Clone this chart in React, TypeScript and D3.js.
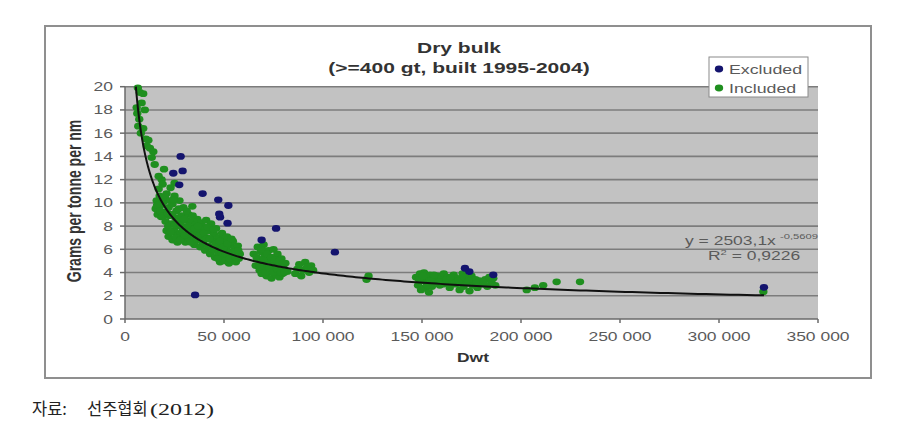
import React from 'react';
import * as d3 from 'd3';

// ---------- data ----------
const TITLE_LINES = ['Dry bulk', '(>=400 gt, built 1995-2004)'];
const X_LABEL = 'Dwt';
const Y_LABEL = 'Grams per tonne per nm';
const X_TICKS = [0, 50, 100, 150, 200, 250, 300, 350]; // thousand dwt
const X_TICK_LABELS = ['0', '50 000', '100 000', '150 000', '200 000', '250 000', '300 000', '350 000'];
const Y_TICKS = [0, 2, 4, 6, 8, 10, 12, 14, 16, 18, 20];
const SERIES_NAMES = ['Excluded', 'Included'];
const FIT_A = 2503.1;
const FIT_B = -0.5609;
const FIT_TEXT = 'y = 2503,1x';
const FIT_EXP = '-0,5609';
const R2_TEXT = '0,9226';
const FIT_X_END = 322.7; // thousand dwt
const CAPTION = ['자료:', '선주협회', '(2012)'];

// [thousand dwt, grams per tonne per nm]
const EXCLUDED: [number, number][] = [
  [28.1, 14.0], [24.4, 12.55], [29.1, 12.75], [27.4, 11.55], [39.2, 10.8], [47.1, 10.26],
  [52.2, 9.77], [48.0, 8.77], [47.6, 9.05], [51.8, 8.25], [35.4, 2.07], [69.0, 6.8],
  [76.3, 7.8], [106.0, 5.75], [171.7, 4.37], [173.9, 4.08], [186.0, 3.8], [322.7, 2.73],
];

const INCLUDED: [number, number][] = [
  // steep part
  [6.5, 19.9], [7.5, 19.5], [9.2, 19.4], [8.4, 18.6], [5.9, 18.2], [10, 18.0], [6.2, 17.7],
  [7.2, 17.2], [6.7, 16.6], [9.2, 16.4], [8, 16.0], [10.5, 15.5], [11.8, 15.4], [11, 14.9],
  [12.6, 14.7], [14.3, 14.4], [13.5, 13.9], [15, 13.3], [19.7, 12.9], [18.5, 12.0], [17, 12.3],
  [25, 11.7], [34, 9.7],
  // 15k - 58k cluster
  [15.5, 9.5], [16, 10.2], [16.5, 9.0], [17, 11.2], [17.5, 10.6], [18, 9.8], [18.2, 8.8],
  [19, 11.6], [19.5, 10.1], [20, 9.2], [20.5, 8.4], [21, 10.8], [21, 7.6], [22, 9.6],
  [22.5, 8.9], [22, 7.1], [23, 11.3], [23.5, 8.2], [24, 9.9], [24, 6.8], [24.8, 7.6],
  [25, 10.6], [25.5, 8.7], [26, 9.3], [26, 7.2], [26.5, 6.6], [27, 8.0], [27.5, 10.2],
  [28, 7.4], [28.5, 8.9], [29, 6.9], [29.5, 9.6], [30, 7.9], [30.5, 6.6], [31, 8.5],
  [31.5, 7.2], [32, 9.0], [32.5, 6.9], [33, 7.8], [33.5, 8.4], [34.5, 7.1], [35, 6.4],
  [35.5, 8.1], [36, 7.5], [36.5, 8.6], [37, 6.8], [37.5, 7.7], [38, 6.2], [38.5, 8.3],
  [39, 7.2], [39.5, 6.5], [40, 7.9], [40.5, 5.9], [41, 8.5], [41.5, 7.0], [42, 6.3],
  [42.5, 7.6], [43, 5.6], [43.5, 8.2], [44, 6.8], [44.5, 6.0], [45, 7.3], [45.5, 5.3],
  [46, 7.8], [46.5, 6.4], [47, 5.7], [47.5, 7.0], [48, 4.9], [48.5, 6.1], [49, 7.4],
  [49.5, 5.4], [50, 6.7], [50.5, 5.0], [51, 6.0], [51.5, 7.1], [52, 5.5], [52.5, 4.8],
  [53, 6.4], [53.5, 5.8], [54, 5.1], [54.5, 6.7], [55, 5.4], [55.5, 6.1], [56, 4.9],
  [56.5, 5.7], [57, 6.3], [57.5, 5.2], [58, 5.6],
  [16.2, 9.8], [17.8, 9.3], [18.8, 10.4], [19.2, 8.9], [20.2, 10.5], [21.5, 9.1], [21.8, 8.0],
  [22.8, 10.2], [23.2, 7.5], [23.8, 9.0], [24.5, 10.3], [25.2, 8.1], [25.8, 7.0], [26.8, 8.4],
  [27.2, 9.5], [27.8, 6.8], [28.2, 8.1], [29.2, 7.6], [29.8, 8.6], [30.2, 7.2], [31.2, 9.3],
  [31.8, 8.0], [32.8, 7.5], [33.2, 6.6], [34.2, 8.9], [35.2, 7.8], [36.2, 6.9], [36.8, 8.0],
  [37.8, 7.2], [38.8, 6.7], [39.8, 7.4], [40.8, 6.9], [41.8, 7.9], [42.8, 6.9], [43.8, 6.2],
  [44.8, 7.7], [45.8, 6.5], [46.8, 5.2], [47.8, 6.7], [48.8, 5.7], [49.8, 6.2], [50.8, 5.6],
  [51.8, 6.5], [52.8, 5.2], [53.8, 6.9], [54.8, 5.8], [55.8, 5.3], [57.2, 5.9],
  // 65k - 82k cluster
  [65, 5.6], [66, 4.6], [67, 6.2], [67.5, 5.1], [68, 4.2], [68.5, 5.8], [69, 3.9],
  [69.5, 4.8], [70, 6.4], [70.5, 5.4], [71, 4.4], [71.5, 3.7], [72, 5.0], [72.5, 5.9],
  [73, 4.1], [73.5, 4.7], [74, 3.5], [74.5, 5.3], [75, 6.0], [75.5, 4.4], [76, 3.8],
  [76.5, 4.9], [77, 5.6], [77.5, 4.2], [78, 3.6], [78.5, 4.6], [79, 5.2], [79.5, 3.9],
  [80, 4.4], [81, 4.8], [82, 4.1],
  [66.5, 5.3], [67.8, 4.5], [68.8, 6.0], [69.8, 5.1], [70.8, 4.0], [71.8, 5.6], [72.8, 4.4],
  [73.8, 5.3], [74.8, 4.0], [75.8, 5.1], [76.8, 4.3], [77.8, 5.0], [78.8, 4.0], [79.8, 4.8],
  [80.5, 4.0],
  // 86k - 95k
  [86, 3.9], [87, 4.3], [88, 4.7], [89, 3.7], [90, 4.2], [91, 4.9], [92, 4.5], [93, 4.0],
  [94, 4.6], [95, 4.2],
  [122, 3.4], [123, 3.7],
  // 147k - 190k cluster
  [147, 3.6], [148, 2.9], [149, 3.9], [149.5, 2.5], [150, 3.3], [151, 4.0], [151.5, 2.7],
  [152, 3.6], [153, 3.1], [153.5, 2.3], [154, 3.8], [155, 2.8], [155.5, 3.4], [157, 3.2],
  [158, 3.7], [159, 2.9], [160, 3.5], [161, 3.9], [162, 3.1], [163, 3.6], [164, 2.7],
  [165, 3.3], [166, 3.8], [167, 3.0], [168, 3.5], [169, 2.5], [170, 3.2], [170.5, 3.9],
  [171, 2.8], [172, 3.5], [173, 3.1], [174, 2.4], [175, 3.7], [176, 3.0], [177, 3.4],
  [178, 2.7], [179, 3.3], [180, 3.0], [182, 3.4], [183, 2.8], [185, 3.2], [186, 3.5],
  [187, 2.9],
  [148.5, 3.4], [150.5, 3.7], [152.5, 2.9], [154.5, 3.3], [156, 3.8], [158.5, 3.2],
  [160.5, 3.0], [162.5, 3.4], [164.5, 3.6], [166.5, 3.1], [168.5, 3.3], [171.5, 3.6],
  [173.5, 3.3], [175.5, 2.9], [177.5, 3.1], [181, 3.2], [184, 3.6],
  [202.9, 2.5], [207, 2.7], [211.2, 2.9], [218, 3.2], [229.8, 3.2], [322.4, 2.35],
];

// ---------- layout ----------
const W = 898;
const H = 447;
const PLOT = { left: 125, right: 818, top: 86.7, bottom: 319 };
const FONT = "'Liberation Sans', Arial, sans-serif";
const SX = 1.4; // horizontal stretch of the source image
const BLUE = '#14146e';
const GREEN = '#1f8f1f';
const TEXT_GRAY = '#5a5a5a';

type TProps = {
  x: number; y: number; size: number; weight?: string | number; anchor?: string;
  fill?: string; rotate?: number; sx?: number; children: React.ReactNode; family?: string;
  textLength?: number;
};
const T = ({ x, y, size, weight = 'normal', anchor = 'start', fill = TEXT_GRAY, rotate, sx = SX, children, family = FONT, textLength }: TProps) => (
  <text
    transform={`translate(${x},${y}) scale(${sx},1)${rotate ? ` rotate(${rotate})` : ''}`}
    fontSize={size}
    fontWeight={weight}
    fontFamily={family}
    textAnchor={anchor}
    fill={fill}
    textLength={textLength}
    lengthAdjust={textLength ? 'spacingAndGlyphs' : undefined}
  >
    {children}
  </text>
);

export default function App() {
  const x = d3.scaleLinear().domain([0, 350]).range([PLOT.left, PLOT.right]);
  const y = d3.scaleLinear().domain([0, 20]).range([PLOT.bottom, PLOT.top]);

  const fit = (k: number) => FIT_A * Math.pow(k * 1000, FIT_B);
  const xStart = Math.pow(20 / FIT_A, 1 / FIT_B) / 1000;
  const fitXs = d3.range(0, 301).map((i) => xStart * Math.pow(FIT_X_END / xStart, i / 300));
  const line = d3.line<number>().x((d) => x(d)).y((d) => y(fit(d)));

  const marker = (cx: number, cy: number, color: string, key: string) => (
    <ellipse key={key} cx={cx} cy={cy} rx={4.2} ry={3.4} fill={color} />
  );

  return (
    <svg width={W} height={H} style={{ position: 'absolute', left: 0, top: 0, background: '#fff' }}>
      <rect x={0} y={0} width={W} height={H} fill="#fff" />
      {/* chart frame */}
      <rect x={45} y={26} width={826} height={352} fill="#fff" stroke="#8f8f8f" strokeWidth={2} />

      {/* title */}
      <T x={459} y={53} size={15} weight="bold" anchor="middle" fill="#333">{TITLE_LINES[0]}</T>
      <T x={459} y={73} size={15} weight="bold" anchor="middle" fill="#333">{TITLE_LINES[1]}</T>

      {/* plot area */}
      <rect x={PLOT.left} y={PLOT.top} width={PLOT.right - PLOT.left} height={PLOT.bottom - PLOT.top} fill="#c2c2c2" />
      {Y_TICKS.filter((t) => t > 0).map((t) => (
        <line key={`g${t}`} x1={PLOT.left} x2={PLOT.right} y1={y(t)} y2={y(t)} stroke="#7c7c7c" strokeWidth={1.6} />
      ))}

      {/* axes */}
      <line x1={PLOT.left} x2={PLOT.left} y1={PLOT.top} y2={PLOT.bottom} stroke="#6a6a6a" strokeWidth={1.5} />
      <line x1={PLOT.left} x2={PLOT.right} y1={PLOT.bottom} y2={PLOT.bottom} stroke="#6a6a6a" strokeWidth={1.5} />
      {Y_TICKS.map((t) => (
        <g key={`yt${t}`}>
          <line x1={PLOT.left - 5} x2={PLOT.left} y1={y(t)} y2={y(t)} stroke="#6a6a6a" strokeWidth={1.5} />
          <T x={113} y={y(t) + 4.5} size={12.5} anchor="end">{String(t)}</T>
        </g>
      ))}
      {X_TICKS.map((t, i) => (
        <g key={`xt${t}`}>
          <line x1={x(t)} x2={x(t)} y1={PLOT.bottom} y2={PLOT.bottom + 4} stroke="#6a6a6a" strokeWidth={1.5} />
          <T x={x(t)} y={340.5} size={12.5} anchor="middle">{X_TICK_LABELS[i]}</T>
        </g>
      ))}

      {/* axis titles */}
      <T x={473} y={362} size={12.5} weight="bold" anchor="middle" fill="#333">{X_LABEL}</T>
      <T x={81} y={201} size={14} weight="bold" anchor="middle" fill="#333" rotate={-90}>{Y_LABEL}</T>

      {/* points */}
      <g>
        {INCLUDED.map(([a, b], i) => marker(x(a), y(b), GREEN, `i${i}`))}
        {EXCLUDED.map(([a, b], i) => marker(x(a), y(b), BLUE, `e${i}`))}
      </g>

      {/* trendline */}
      <path d={line(fitXs) || ''} fill="none" stroke="#111" strokeWidth={2} />

      {/* fit text */}
      <T x={685} y={245} size={12.5} fill={TEXT_GRAY}>{FIT_TEXT}</T>
      <T x={780} y={238.5} size={8} fill={TEXT_GRAY}>{FIT_EXP}</T>
      <T x={708} y={259.5} size={12.5} fill={TEXT_GRAY}>
        R<tspan fontSize={8} dy={-4.5}>2</tspan><tspan dy={4.5}>{` = ${R2_TEXT}`}</tspan>
      </T>

      {/* legend */}
      <rect x={709} y={57} width={99} height={40} fill="#fff" stroke="#8a8a8a" strokeWidth={1} />
      {marker(719, 69, BLUE, 'lg0')}
      {marker(719, 88, GREEN, 'lg1')}
      <T x={729} y={73.5} size={12.7}>{SERIES_NAMES[0]}</T>
      <T x={729} y={92.5} size={12.7}>{SERIES_NAMES[1]}</T>

      {/* caption */}
      <T x={32} y={415} size={16.5} sx={1} fill="#222" family="'Noto Sans CJK KR', sans-serif">{CAPTION[0]}</T>
      <T x={87} y={415} size={16.5} sx={1} fill="#222" family="'Noto Sans CJK KR', sans-serif">{CAPTION[1]}</T>
      <T x={150} y={415} size={17} sx={1} fill="#222" family="'Liberation Serif', serif" textLength={64}>{CAPTION[2]}</T>
    </svg>
  );
}
